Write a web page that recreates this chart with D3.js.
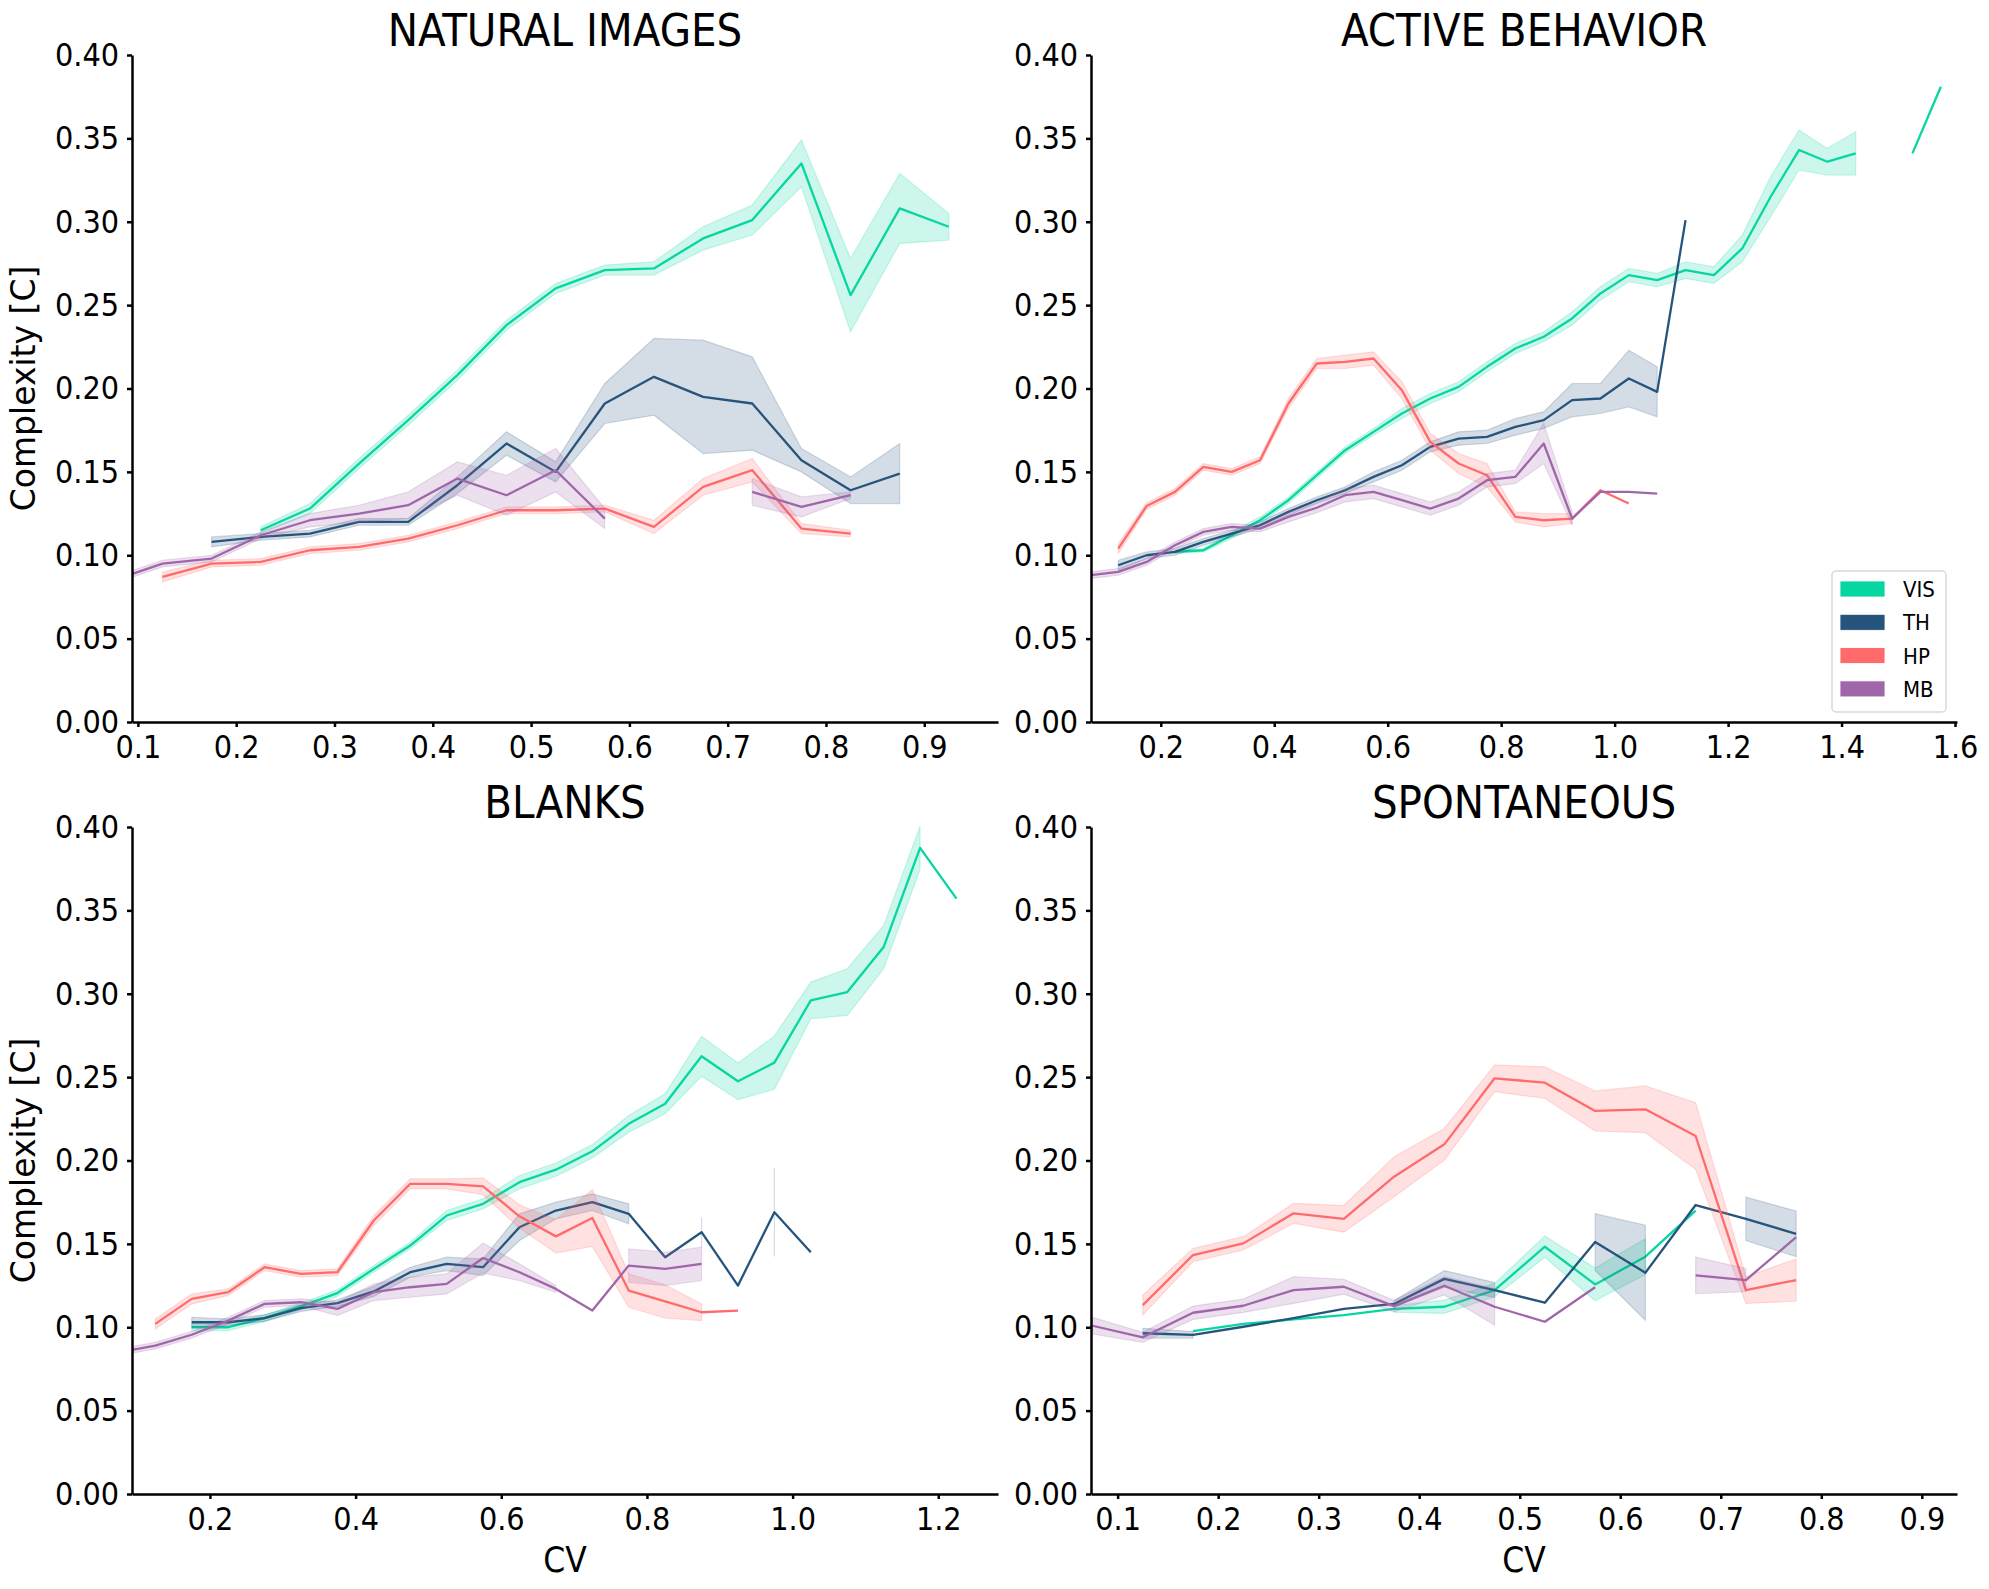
<html>
<head>
<script src="https://cdn.jsdelivr.net/npm/d3@7"></script>
<style>
  body { margin: 0; background: #fff; }
  .cond { font-family: "DejaVu Sans Condensed", "DejaVu Sans", sans-serif; font-stretch: condensed; }
  .tick text { font-family: "DejaVu Sans Condensed", "DejaVu Sans", sans-serif; font-stretch: condensed; font-size: 32px; fill: #000; }
  .tick line, .domain { stroke: #000; stroke-width: 2.5px; }
</style>
</head>
<body>
<script>
// regions (legend order) and colours
const regions = ["VIS", "TH", "HP", "MB"];
const colors = ["#06d6a0", "#26547c", "#ff6b6b", "#a066aa"];
const yTicks = [0, 0.05, 0.1, 0.15, 0.2, 0.25, 0.3, 0.35, 0.4];

// ---- NATURAL IMAGES ----
const natX = [0.075,0.125,0.175,0.225,0.275,0.325,0.375,0.425,0.475,0.525,0.575,0.625,0.675,0.725,0.775,0.825,0.875,0.925];
const natTicks = [0.1,0.2,0.3,0.4,0.5,0.6,0.7,0.8,0.9];
const natVIS = [null,null,null,0.115,0.128,0.155,0.181,0.208,0.238,0.260,0.271,0.272,0.290,0.301,0.335,0.256,0.308,0.297];
const natVISerr = [null,null,null,0.002,0.003,0.003,0.003,0.003,0.003,0.003,0.003,0.004,0.007,0.009,0.014,0.022,0.021,0.008];
const natTH = [null,null,0.108,0.111,0.113,0.120,0.120,0.142,0.167,0.150,0.191,0.207,0.195,0.191,0.157,0.139,0.149,null];
const natTHerr = [null,null,0.003,0.002,0.002,0.002,0.002,0.005,0.007,0.006,0.012,0.023,0.034,0.028,0.007,0.008,0.018,null];
const natHP = [null,0.087,0.095,0.096,0.103,0.105,0.110,0.118,0.127,0.127,0.128,0.117,0.141,0.151,0.116,0.113,null,null];
const natHPerr = [null,0.003,0.002,0.002,0.002,0.002,0.002,0.002,0.002,0.002,0.002,0.004,0.005,0.007,0.003,0.002,null,null];
const natMB = [0.085,0.095,0.098,0.112,0.121,0.125,0.130,0.146,0.136,0.151,0.122,null,null,0.138,0.129,0.136,null,null];
const natMBerr = [0.002,0.002,0.002,0.002,0.004,0.005,0.008,0.010,0.012,0.013,0.006,null,null,0.008,0.006,0.002,null,null];

// ---- ACTIVE BEHAVIOR ----
const actX = [0.075,0.125,0.175,0.225,0.275,0.325,0.375,0.425,0.475,0.525,0.575,0.625,0.675,0.725,0.775,0.825,0.875,0.925,0.975,1.025,1.075,1.125,1.175,1.225,1.275,1.325,1.375,1.425,1.475,1.525,1.575];
const actTicks = [0.2,0.4,0.6,0.8,1.0,1.2,1.4,1.6];
const actVIS = [null,null,null,0.102,0.103,0.112,0.121,0.133,0.148,0.163,0.174,0.185,0.194,0.201,0.213,0.224,0.231,0.242,0.257,0.268,0.265,0.271,0.268,0.284,0.315,0.343,0.336,0.341,null,0.341,0.381];
const actVISerr = [null,null,null,0.001,0.001,0.002,0.002,0.002,0.002,0.002,0.002,0.003,0.003,0.003,0.003,0.003,0.003,0.004,0.004,0.004,0.004,0.005,0.005,0.008,0.012,0.012,0.008,0.013,null,null,null];
const actTH = [null,0.094,0.100,0.102,0.108,0.113,0.118,0.126,0.133,0.139,0.147,0.154,0.165,0.170,0.171,0.177,0.181,0.193,0.194,0.206,0.198,0.301,null,null,null,null,null,null,null,null,null];
const actTHerr = [null,0.003,0.002,0.002,0.002,0.002,0.002,0.002,0.002,0.002,0.003,0.003,0.003,0.004,0.004,0.005,0.005,0.010,0.009,0.017,0.015,null,null,null,null,null,null,null,null,null,null];
const actHP = [null,0.104,0.1295,0.138,0.153,0.150,0.157,0.191,0.215,0.216,0.218,0.199,0.168,0.155,0.148,0.123,0.121,0.122,0.139,0.131,null,null,null,null,null,null,null,null,null,null,null];
const actHPerr = [null,0.003,0.002,0.002,0.002,0.002,0.002,0.003,0.003,0.004,0.004,0.005,0.005,0.006,0.007,0.003,0.004,0.003,null,null,null,null,null,null,null,null,null,null,null,null,null];
const actMB = [0.088,0.090,0.096,0.106,0.114,0.117,0.116,0.123,0.1285,0.136,0.138,0.133,0.128,0.134,0.145,0.147,0.167,0.122,0.138,0.138,0.137,null,null,null,null,null,null,null,null,null,null];
const actMBerr = [0.002,0.002,0.002,0.002,0.002,0.002,0.002,0.003,0.003,0.004,0.004,0.004,0.004,0.004,0.004,0.004,0.012,0.004,null,null,null,null,null,null,null,null,null,null,null,null,null];

// ---- BLANKS ----
const blkX = [0.075,0.125,0.175,0.225,0.275,0.325,0.375,0.425,0.475,0.525,0.575,0.625,0.675,0.725,0.775,0.825,0.875,0.925,0.975,1.025,1.075,1.125,1.175,1.225];
const blkTicks = [0.2,0.4,0.6,0.8,1.0,1.2];
const blkVIS = [null,null,0.100,0.100,0.1055,0.1125,0.1205,0.135,0.149,0.167,0.174,0.187,0.1945,0.2055,0.222,0.234,0.2625,0.2475,0.2587,0.296,0.301,0.328,0.3875,0.357];
const blkVISerr = [null,null,0.002,0.002,0.002,0.002,0.002,0.002,0.002,0.003,0.003,0.004,0.004,0.004,0.005,0.006,0.012,0.011,0.016,0.011,0.014,0.013,0.013,null];
const blkTH = [null,null,0.103,0.103,0.1055,0.1115,0.1145,0.1215,0.133,0.138,0.136,0.160,0.170,0.175,0.168,0.142,0.157,0.125,0.169,0.145,null,null,null,null];
const blkTHerr = [null,null,0.003,0.002,0.002,0.002,0.002,0.003,0.003,0.004,0.005,0.008,0.005,0.005,0.006,null,0.009,null,0.0265,null,null,null,null,null];
const blkHP = [null,0.102,0.117,0.121,0.136,0.132,0.133,0.164,0.186,0.186,0.1845,0.1665,0.1545,0.1655,0.122,0.1155,0.109,0.110,null,null,null,null,null,null];
const blkHPerr = [null,0.003,0.003,0.002,0.002,0.002,0.002,0.003,0.003,0.003,0.005,0.007,0.010,0.017,0.010,0.010,0.005,null,null,null,null,null,null,null];
const blkMB = [0.085,0.089,0.0955,0.104,0.114,0.115,0.111,0.121,0.124,0.126,0.1415,0.133,0.123,0.110,0.137,0.135,0.138,null,null,null,null,null,null,null];
const blkMBerr = [0.002,0.002,0.002,0.002,0.002,0.002,0.004,0.005,0.006,0.006,0.009,0.005,0.002,null,0.010,0.010,0.010,null,null,null,null,null,null,null];

// ---- SPONTANEOUS ----
const spoX = [0.075,0.125,0.175,0.225,0.275,0.325,0.375,0.425,0.475,0.525,0.575,0.625,0.675,0.725,0.775];
const spoTicks = [0.1,0.2,0.3,0.4,0.5,0.6,0.7,0.8,0.9];
const spoVIS = [null,null,0.0977,0.102,0.1047,0.1073,0.111,0.1123,0.1223,0.1483,0.1257,0.1423,0.1699,null,null];
const spoVISerr = [null,null,null,null,null,null,0.002,0.004,0.004,0.0064,0.0098,0.0107,null,null,null];
const spoTH = [null,0.0964,0.0954,0.1003,0.1055,0.111,0.114,0.129,0.1223,0.1147,0.1511,0.1327,0.1733,0.165,0.156];
const spoTHerr = [null,0.003,0.002,null,null,null,0.002,0.005,0.0045,null,0.017,0.0285,null,0.013,0.0137];
const spoHP = [null,0.1133,0.1433,0.1503,0.1683,0.165,0.1903,0.2097,0.2493,0.2467,0.2297,0.2307,0.2147,0.1223,0.1283];
const spoHPerr = [null,0.006,0.004,0.004,0.006,0.008,0.012,0.0095,0.008,0.0095,0.012,0.014,0.020,0.008,0.0127];
const spoMB = [0.1009,0.094,0.1087,0.1129,0.1223,0.1243,0.1127,0.1249,0.1123,0.1033,0.124,null,0.1311,0.1283,0.154];
const spoMBerr = [0.005,0.003,0.004,0.004,0.008,0.0045,0.0035,0.0055,0.011,null,null,null,0.011,0.007,null];

const panels = [
  { title: "NATURAL IMAGES", xs: natX, ticks: natTicks, dom: [0.094, 0.975], left: 132, top: 55, ylab: true, xlab: false,
    means: [natVIS, natTH, natHP, natMB], errs: [natVISerr, natTHerr, natHPerr, natMBerr] },
  { title: "ACTIVE BEHAVIOR", xs: actX, ticks: actTicks, dom: [0.077, 1.6035], left: 1091, top: 55, ylab: false, xlab: false, legend: true,
    means: [actVIS, actTH, actHP, actMB], errs: [actVISerr, actTHerr, actHPerr, actMBerr] },
  { title: "BLANKS", xs: blkX, ticks: blkTicks, dom: [0.093, 1.282], left: 132, top: 827, ylab: true, xlab: true,
    means: [blkVIS, blkTH, blkHP, blkMB], errs: [blkVISerr, blkTHerr, blkHPerr, blkMBerr] },
  { title: "SPONTANEOUS", xs: spoX, ticks: spoTicks, dom: [0.0735, 0.935], left: 1091, top: 827, ylab: false, xlab: true,
    means: [spoVIS, spoTH, spoHP, spoMB], errs: [spoVISerr, spoTHerr, spoHPerr, spoMBerr] }
];

const W = 1989, H = 1589;
const pw = 866, ph = 667;

const svg = d3.select("body").append("svg").attr("width", W).attr("height", H);

panels.forEach((p, pi) => {
  const g = svg.append("g").attr("transform", `translate(${p.left},${p.top})`);
  const x = d3.scaleLinear().domain(p.dom).range([0, pw]);
  const y = d3.scaleLinear().domain([0, 0.4]).range([ph, 0]);

  g.append("clipPath").attr("id", "clip" + pi)
    .append("rect").attr("width", pw).attr("height", ph + 2).attr("y", -1);

  const plot = g.append("g").attr("clip-path", `url(#clip${pi})`);

  p.means.forEach((m, si) => {
    const e = p.errs[si];
    const pts = p.xs.map((xv, i) => ({ x: xv, m: m[i], e: e[i] }));

    // confidence band (isolated points give a thin vertical stroke)
    const area = d3.area()
      .defined(d => d.m != null && d.e != null)
      .x(d => x(d.x))
      .y0(d => y(d.m - d.e))
      .y1(d => y(d.m + d.e));
    plot.append("path").datum(pts)
      .attr("d", area)
      .attr("fill", colors[si]).attr("fill-opacity", 0.2)
      .attr("stroke", colors[si]).attr("stroke-opacity", 0.2).attr("stroke-width", 1.2);

    const line = d3.line()
      .defined(d => d.m != null)
      .x(d => x(d.x))
      .y(d => y(d.m));
    plot.append("path").datum(pts)
      .attr("d", line)
      .attr("fill", "none")
      .attr("stroke", colors[si]).attr("stroke-width", 2.3)
      .attr("stroke-linejoin", "round");
  });

  g.append("g").attr("transform", `translate(0,${ph})`)
    .call(d3.axisBottom(x).tickValues(p.ticks).tickSize(5).tickSizeOuter(0).tickPadding(8)
      .tickFormat(d3.format(".1f")));
  g.append("g")
    .call(d3.axisLeft(y).tickValues(yTicks).tickSize(5).tickSizeOuter(0).tickPadding(8)
      .tickFormat(d3.format(".2f")));

  g.append("text").attr("class", "cond")
    .attr("x", pw / 2).attr("y", -9)
    .attr("text-anchor", "middle").attr("font-size", 45)
    .text(p.title);

  if (p.ylab) {
    g.append("text")
      .attr("transform", `translate(${-97},${ph / 2}) rotate(-90)`)
      .attr("text-anchor", "middle").attr("font-family", "DejaVu Sans").attr("font-size", 33)
      .text("Complexity [C]");
  }
  if (p.xlab) {
    g.append("text").attr("class", "cond")
      .attr("x", pw / 2).attr("y", ph + 78)
      .attr("text-anchor", "middle").attr("font-size", 35)
      .text("CV");
  }

  if (p.legend) {
    const lg = g.append("g").attr("transform", `translate(${1832 - p.left},${571 - p.top})`);
    lg.append("rect").attr("width", 114).attr("height", 141).attr("rx", 4)
      .attr("fill", "#fff").attr("fill-opacity", 0.8).attr("stroke", "#d9d9d9").attr("stroke-width", 1.5);
    regions.forEach((r, i) => {
      lg.append("rect").attr("x", 8).attr("y", 10 + i * 33.3).attr("width", 45).attr("height", 16)
        .attr("fill", colors[i]).attr("stroke", "#fff").attr("stroke-width", 0.8);
      lg.append("text").attr("class", "cond")
        .attr("x", 71).attr("y", 26 + i * 33.3).attr("font-size", 22)
        .text(r);
    });
  }
});
</script>
</body>
</html>
